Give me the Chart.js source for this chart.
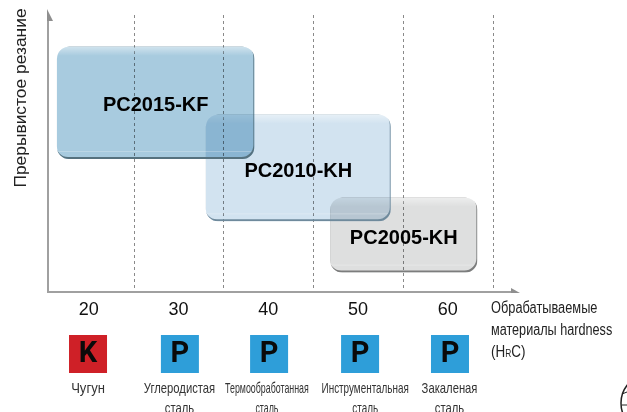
<!DOCTYPE html>
<html lang="ru">
<head>
  <meta charset="UTF-8">
  <title>Hardness chart</title>
  <style>
    html, body { margin: 0; padding: 0; background: #fff; }
    #wrap { width: 627px; height: 412px; overflow: hidden; }
  </style>
</head>
<body>
  <div id="wrap"><canvas id="chart" width="627" height="412"></canvas></div>
  <script src="https://cdn.jsdelivr.net/npm/chart.js"></script>
  <script>
    // grades (x = HRC, y = share of the axis height)
    const grades = ['PC2015-KF', 'PC2010-KH', 'PC2005-KH'];
    const hrcFrom = [16.4, 33.0, 46.85];
    const hrcTo = [38.4, 53.6, 63.25];
    const cutLow = [48, 25.5, 7];
    const cutHigh = [88.5, 64, 34];
    const gradeColors = ['#a8cbdf', '#d2e3f0', '#dedfdf'];
    const gradeEdges = ['#56727f', '#6f8a9c', '#7c7d7d'];

    const hardnessTicks = [20, 30, 40, 50, 60];
    const gridLines = [25, 35, 45, 55, 65];

    const materialCodes = ['K', 'P', 'P', 'P', 'P'];
    const materialColors = ['#cf2027', '#2e9ed9', '#2e9ed9', '#2e9ed9', '#2e9ed9'];
    const materialNames = [['Чугун'], ['Углеродистая', 'сталь'], ['Термообработанная', 'сталь'], ['Инструментальная', 'сталь'], ['Закаленая', 'сталь']];
    // where the tags and their captions sit along the hardness axis
    const tagCentres = [19.86, 30.1, 40.04, 50.18, 60.2];
    const nameCentres = [19.86, 30.05, 39.8, 50.75, 60.15];
    const nameSqueeze = [0.87, 0.75, 0.59, 0.66, 0.75];

    const yTitle = 'Прерывистое резание';
    const xTitle = ['Обрабатываемые', 'материалы hardness'];

    const sans = '"Liberation Sans", sans-serif';

    // the source uses a condensed face, so squeeze the text sideways
    function squeezed(ctx, text, x, y, factor) {
      ctx.save();
      ctx.translate(x, y);
      ctx.scale(factor, 1);
      ctx.fillText(text, 0, 0);
      ctx.restore();
    }

    const boxes = {
      id: 'boxes',
      // bars sit on a linear x scale, so stretch each one to its HRC range
      afterDatasetsUpdate(chart) {
        const x = chart.scales.x;
        chart.data.datasets.forEach((ds, i) => {
          const el = chart.getDatasetMeta(i).data[0];
          el.x = (x.getPixelForValue(hrcFrom[i]) + x.getPixelForValue(hrcTo[i])) / 2;
          el.width = x.getPixelForValue(hrcTo[i]) - x.getPixelForValue(hrcFrom[i]);
        });
      },
      beforeDatasetDraw(chart) {
        chart.ctx.save();
        chart.ctx.globalCompositeOperation = 'multiply';
      },
      afterDatasetDraw(chart, args) {
        const ctx = chart.ctx;
        ctx.restore();
        const el = args.meta.data[0];
        const l = el.x - el.width / 2, t = el.y, w = el.width, h = el.base - el.y;
        ctx.save();
        ctx.beginPath();
        ctx.roundRect(l, t, w, h, 12);
        ctx.clip();
        // glossy top
        const g = ctx.createLinearGradient(0, t, 0, t + 9);
        g.addColorStop(0, 'rgba(255,255,255,0.45)');
        g.addColorStop(1, 'rgba(255,255,255,0)');
        ctx.fillStyle = g;
        ctx.fillRect(l, t, w, 9);
        // thin light line near the bottom
        ctx.fillStyle = 'rgba(255,255,255,0.25)';
        ctx.fillRect(l, t + h - 8, w, 1);
        // dark lower and right edge
        ctx.beginPath();
        ctx.rect(l, t, w, h);
        ctx.roundRect(l - 1, t - 2, w, h, 12);
        ctx.fillStyle = gradeEdges[args.index];
        ctx.fill('evenodd');
        ctx.restore();
      },
      afterDatasetsDraw(chart) {
        const ctx = chart.ctx;
        ctx.save();
        ctx.fillStyle = '#000';
        ctx.font = 'bold 20px ' + sans;
        ctx.textAlign = 'center';
        ctx.textBaseline = 'middle';
        grades.forEach((name, i) => {
          const el = chart.getDatasetMeta(i).data[0];
          ctx.fillText(name, el.x, (el.y + el.base) / 2 + 3);
        });
        ctx.restore();
      }
    };

    const extras = {
      id: 'extras',
      afterDraw(chart) {
        const ctx = chart.ctx;
        const x = chart.scales.x;
        const { left, right, top, bottom } = chart.chartArea;
        ctx.save();

        // arrow heads
        ctx.fillStyle = '#8f8f8f';
        ctx.beginPath();
        ctx.moveTo(left - 1, top - 6);
        ctx.lineTo(left + 5, top + 6);
        ctx.lineTo(left - 1, top + 6);
        ctx.fill();
        ctx.beginPath();
        ctx.moveTo(right + 9, bottom + 1);
        ctx.lineTo(right, bottom - 4);
        ctx.lineTo(right, bottom + 1);
        ctx.fill();

        // y title
        ctx.save();
        ctx.translate(21, 98);
        ctx.rotate(-Math.PI / 2);
        ctx.fillStyle = '#222';
        ctx.font = '17.4px ' + sans;
        ctx.textAlign = 'center';
        ctx.textBaseline = 'middle';
        ctx.fillText(yTitle, 0, 0);
        ctx.restore();

        // x title
        ctx.fillStyle = '#222';
        ctx.textAlign = 'left';
        ctx.textBaseline = 'middle';
        ctx.font = '16px ' + sans;
        squeezed(ctx, xTitle[0], 491, 309, 0.8);
        squeezed(ctx, xTitle[1], 491, 331, 0.79);
        squeezed(ctx, '(H', 491, 353, 0.84);
        let tx = 491 + ctx.measureText('(H').width * 0.84;
        ctx.font = '10px ' + sans;
        squeezed(ctx, 'R', tx, 354, 0.84);
        tx += ctx.measureText('R').width * 0.84;
        ctx.font = '16px ' + sans;
        squeezed(ctx, 'C)', tx, 353, 0.84);

        // material tags under the axis
        tagCentres.forEach((v, i) => {
          const cx = x.getPixelForValue(v);
          ctx.fillStyle = materialColors[i];
          ctx.fillRect(cx - 19, 335, 38, 38);
          ctx.fillStyle = '#0a0a0a';
          ctx.textAlign = 'center';
          ctx.font = 'bold 29px Roboto, sans-serif';
          ctx.fillText(materialCodes[i], cx, 355);
          ctx.fillStyle = '#333';
          ctx.font = '15px ' + sans;
          materialNames[i].forEach((line, j) => {
            squeezed(ctx, line, x.getPixelForValue(nameCentres[i]), 389 + j * 20, nameSqueeze[i]);
          });
        });

        // cut off logo in the corner
        ctx.strokeStyle = '#222';
        ctx.lineWidth = 1.5;
        ctx.beginPath();
        ctx.ellipse(640, 403, 19, 24, 0, 0, Math.PI * 2);
        ctx.stroke();
        ctx.lineWidth = 1;
        ctx.beginPath();
        ctx.moveTo(622, 394);
        ctx.lineTo(627, 392);
        ctx.moveTo(622, 405);
        ctx.lineTo(627, 405);
        ctx.stroke();
        ctx.restore();
      }
    };

    new Chart(document.getElementById('chart'), {
      type: 'bar',
      data: {
        datasets: grades.map((name, i) => ({
          label: name,
          data: [{ x: (hrcFrom[i] + hrcTo[i]) / 2, y: [cutLow[i], cutHigh[i]] }],
          backgroundColor: gradeColors[i],
          borderRadius: 12,
          borderSkipped: false,
          borderWidth: 0,
          grouped: false,
          order: i
        }))
      },
      options: {
        responsive: false,
        animation: false,
        layout: { padding: { top: 15, right: 116, left: 0, bottom: 0 } },
        plugins: { legend: { display: false }, tooltip: { enabled: false } },
        scales: {
          x: {
            type: 'linear',
            offset: false,
            min: 15.4,
            max: 67,
            afterBuildTicks(axis) {
              axis.ticks = hardnessTicks.concat(gridLines).sort((a, b) => a - b).map(value => ({ value }));
            },
            afterFit(axis) { axis.height = 120; },
            border: { color: '#a0a0a0', width: 2, dash: [3, 3] },
            grid: {
              offset: false,
              drawTicks: false,
              lineWidth: 1,
              color: ctx => ctx.tick && gridLines.includes(ctx.tick.value) ? '#8a8a8a' : 'rgba(0,0,0,0)'
            },
            ticks: {
              autoSkip: false,
              maxRotation: 0,
              padding: 7,
              labelOffset: -0.5,
              color: '#111',
              font: { family: sans, size: 18 },
              callback: value => hardnessTicks.includes(value) ? String(value) : ''
            }
          },
          y: {
            min: 0,
            max: 100,
            afterFit(axis) { axis.width = 48; },
            border: { color: '#a0a0a0', width: 2 },
            grid: { display: false, drawTicks: false },
            ticks: { display: false }
          }
        }
      },
      plugins: [boxes, extras]
    });
  </script>
</body>
</html>
